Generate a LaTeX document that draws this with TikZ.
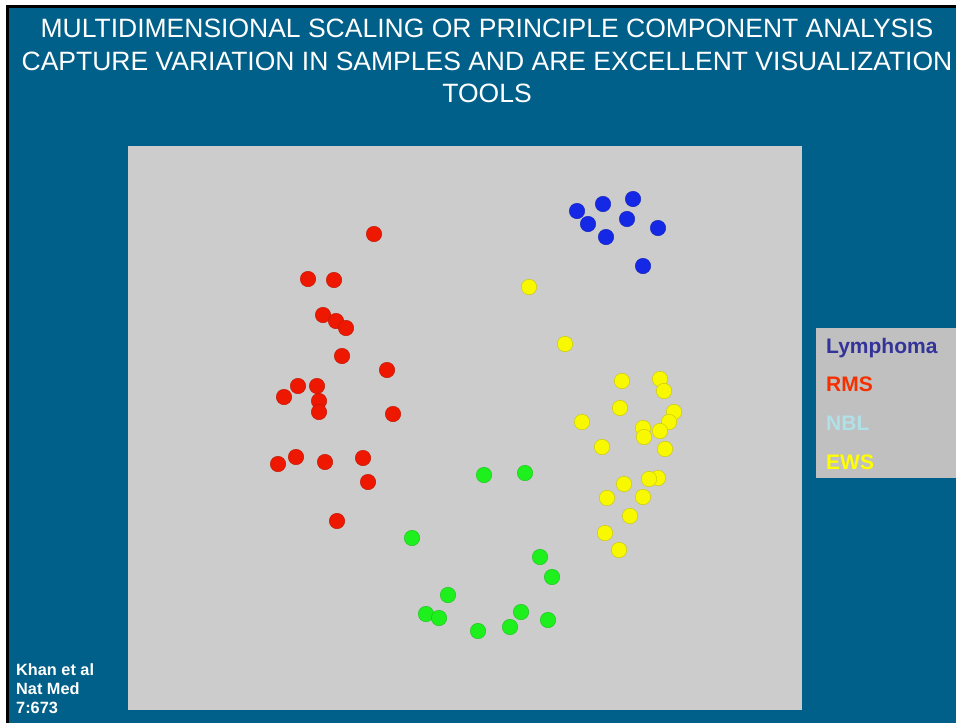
\documentclass[tikz,border=0pt]{standalone}
\usepackage{fontspec}
\setmainfont{Liberation Sans}
\usetikzlibrary{positioning}

\definecolor{slidebg}{HTML}{006089}
\definecolor{plotbg}{HTML}{CCCCCC}
\definecolor{legbg}{HTML}{C0C0C0}
\definecolor{lymph}{HTML}{333399}
\definecolor{rms}{HTML}{F53000}
\definecolor{nbl}{HTML}{B0E0E8}
\definecolor{ews}{HTML}{FFFF00}
\definecolor{dotblue}{HTML}{1428E6}
\definecolor{dotred}{HTML}{EE1800}
\definecolor{dotgreen}{HTML}{1EF01E}
\definecolor{dotyellow}{HTML}{F8F800}

\tikzset{
  sample/.style={circle, minimum size=15.5pt, inner sep=0pt, fill=#1, draw=#1!80!black, line width=0.4pt},
  legtext/.style={font=\fontsize{21}{24}\selectfont\bfseries, anchor=base west, inner sep=0pt},
}

\begin{document}
\begin{tikzpicture}[x=1pt,y=-1pt]
		\useasboundingbox (0,0) rectangle (956,723);
		\fill[white] (0,0) rectangle (956,723);
		\fill[black] (6,5) rectangle (956,723);
		\fill[slidebg] (9,8) rectangle (956,723);
		
		\node[text=white, align=center, font=\fontsize{26.5}{32.5}\selectfont] (title) at (487,61)
		{MULTIDIMENSIONAL SCALING OR PRINCIPLE COMPONENT ANALYSIS\\
		CAPTURE VARIATION IN SAMPLES AND ARE EXCELLENT VISUALIZATION\\
		TOOLS};
		
		\fill[plotbg] (128,146) rectangle (802,710);
		\fill[legbg] (816,328) rectangle (956,478);
		
		\node[legtext, text=lymph] (lymphoma) at (826,353) {Lymphoma};
		\node[legtext, text=rms] (rms) at (826,391.5) {RMS};
		\node[legtext, text=nbl] (nbl) at (826,430.5) {NBL};
		\node[legtext, text=ews] (ews) at (826,469.5) {EWS};
		
		\node[text=white, align=left, anchor=north west, inner sep=0pt,
		font=\fontsize{16.3}{19}\selectfont\bfseries] (cite) at (16,663.5) {Khan et al\\Nat Med\\7:673};
		
		% lymphoma
		\foreach \x/\y [count=\i] in {577/211, 603/204, 633/199, 588/224, 627/219, 606/237, 658/228, 643/266}
		\node[sample=dotblue] (b\i) at (\x,\y) {};
		% rms
		\foreach \x/\y [count=\i] in {374/234, 308/279, 334/280, 323/315, 336/321, 346/328, 342/356, 387/370,
			298/386, 317/386, 284/397, 319/401, 319/412, 393/414, 278/464, 296/457, 325/462, 363/458,
			368/482, 337/521}
		\node[sample=dotred] (r\i) at (\x,\y) {};
		% nbl
		\foreach \x/\y [count=\i] in {484/475, 525/473, 412/538, 540/557, 552/577, 448/595, 426/614, 439/618,
			478/631, 510/627, 521/612, 548/620}
		\node[sample=dotgreen] (g\i) at (\x,\y) {};
		% ews
		\foreach \x/\y [count=\i] in {529/287, 565/344, 622/381, 660/379, 664/391, 620/408, 582/422, 674/412,
			669/422, 660/431, 643/428, 644/437, 602/447, 665/449, 658/478, 649/479, 624/484, 643/497,
			607/498, 630/516, 605/533, 619/550}
		\node[sample=dotyellow] (y\i) at (\x,\y) {};
		\end{tikzpicture}
\end{document}
